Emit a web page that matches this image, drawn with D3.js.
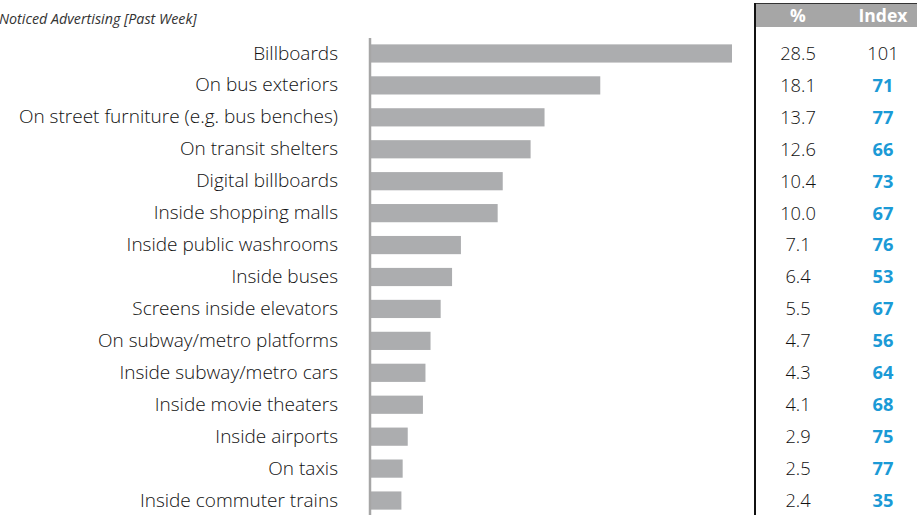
<!DOCTYPE html>
<html>
<head>
<meta charset="utf-8">
<script src="https://cdn.jsdelivr.net/npm/d3@7"></script>
<style>
  html, body { margin: 0; padding: 0; background: #fff; }
  svg { display: block; }
</style>
</head>
<body>
<svg id="chart" width="917" height="515"></svg>
<script>
// Media where advertising was noticed in the past week
const categories = [
  "Billboards",
  "On bus exteriors",
  "On street furniture (e.g. bus benches)",
  "On transit shelters",
  "Digital billboards",
  "Inside shopping malls",
  "Inside public washrooms",
  "Inside buses",
  "Screens inside elevators",
  "On subway/metro platforms",
  "Inside subway/metro cars",
  "Inside movie theaters",
  "Inside airports",
  "On taxis",
  "Inside commuter trains"
];
const percent = [28.5, 18.1, 13.7, 12.6, 10.4, 10.0, 7.1, 6.4, 5.5, 4.7, 4.3, 4.1, 2.9, 2.5, 2.4];
const indexValues = [101, 71, 77, 66, 73, 67, 76, 53, 67, 56, 64, 68, 75, 77, 35];
const columnHeaders = ["%", "Index"];
const title = "Noticed Advertising [Past Week]";

const svg = d3.select("#chart");
const font = "'Open Sans', sans-serif";
const labelSize = 19;
const numberSize = 18.3;

const x = d3.scaleLinear().domain([0, 28.5]).range([371, 732]);
const y = d3.scaleBand().domain(categories).range([37.5, 516.5]).paddingInner(0.43).paddingOuter(0.215);

// Title
svg.append("text")
  .attr("x", -1).attr("y", 24)
  .attr("font-family", font).attr("font-style", "italic")
  .attr("font-size", 14.3).attr("font-weight", 400).attr("fill", "#333")
  .text(title);

// Bars
svg.append("g").selectAll("rect")
  .data(categories)
  .join("rect")
  .attr("x", x(0))
  .attr("y", d => y(d))
  .attr("width", (d, i) => x(percent[i]) - x(0))
  .attr("height", y.bandwidth())
  .attr("fill", "#acadaf");

// Category axis on the left
const axis = svg.append("g")
  .attr("transform", `translate(${x(0)},0)`)
  .call(d3.axisLeft(y).tickSize(0).tickPadding(33));
axis.select(".domain").attr("stroke", "#a6a6a6").attr("stroke-width", 2.5)
  .attr("d", "M-1,38V515");
axis.selectAll("text")
  .attr("font-family", font).attr("font-size", labelSize)
  .attr("font-weight", 300).attr("fill", "#111");

// Side table
const table = svg.append("g");
table.append("rect").attr("x", 756).attr("y", 3).attr("width", 161).attr("height", 24).attr("fill", "#a6a6a6");
table.append("line").attr("x1", 755).attr("x2", 917).attr("y1", 3.5).attr("y2", 3.5).attr("stroke", "#333").attr("stroke-width", 1);
table.append("line").attr("x1", 755).attr("x2", 755).attr("y1", 3).attr("y2", 515).attr("stroke", "#111").attr("stroke-width", 2);

const colX = [798, 883];
table.selectAll("text.head")
  .data(columnHeaders)
  .join("text")
  .attr("class", "head")
  .attr("x", (d, i) => colX[i]).attr("y", 21.5)
  .attr("text-anchor", "middle")
  .attr("font-family", font).attr("font-weight", "bold")
  .attr("font-size", 17.5).attr("fill", "#fff")
  .text(d => d);

table.selectAll("text.pct")
  .data(categories)
  .join("text")
  .attr("class", "pct")
  .attr("x", colX[0])
  .attr("y", d => y(d) + y.bandwidth() / 2)
  .attr("dy", "0.35em")
  .attr("text-anchor", "middle")
  .attr("font-family", font).attr("font-size", numberSize)
  .attr("font-weight", 300).attr("fill", "#111")
  .text((d, i) => percent[i].toFixed(1));

table.selectAll("text.idx")
  .data(categories)
  .join("text")
  .attr("class", "idx")
  .attr("x", colX[1])
  .attr("y", d => y(d) + y.bandwidth() / 2)
  .attr("dy", "0.35em")
  .attr("text-anchor", "middle")
  .attr("font-family", font).attr("font-size", numberSize)
  .attr("font-weight", (d, i) => indexValues[i] < 80 ? 700 : 300)
  .attr("fill", (d, i) => indexValues[i] < 80 ? "#1b9ad6" : "#111")
  .text((d, i) => indexValues[i]);
</script>
</body>
</html>
